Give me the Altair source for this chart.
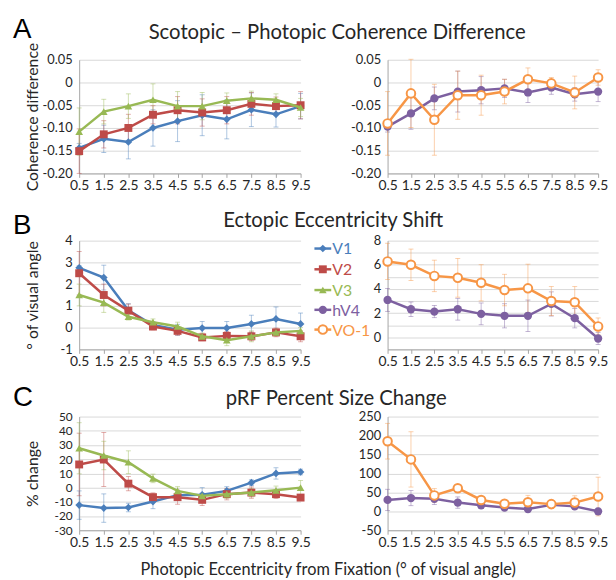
import altair as alt
import pandas as pd

# ---------------- data ----------------
ECC = [0.5, 1.5, 2.5, 3.5, 4.5, 5.5, 6.5, 7.5, 8.5, 9.5]

# A: Scotopic - Photopic coherence difference
A_V1 = [-0.144, -0.124, -0.131, -0.100, -0.085, -0.072, -0.081, -0.060, -0.070, -0.052]
A_V1_err = [0.010, 0.030, 0.037, 0.040, 0.045, 0.045, 0.043, 0.037, 0.028, 0.028]
A_V2 = [-0.151, -0.114, -0.100, -0.071, -0.061, -0.066, -0.061, -0.047, -0.052, -0.050]
A_V2_err = [0.049, 0.030, 0.030, 0.020, 0.030, 0.030, 0.030, 0.025, 0.020, 0.030]
A_V3 = [-0.108, -0.064, -0.052, -0.038, -0.052, -0.052, -0.040, -0.035, -0.038, -0.055]
A_V3_err = [0.052, 0.027, 0.027, 0.035, 0.032, 0.030, 0.017, 0.016, 0.013, 0.020]
A_hV4 = [-0.097, -0.068, -0.035, -0.020, -0.017, -0.013, -0.022, -0.011, -0.026, -0.020]
A_hV4_err = [0.012, 0.035, 0.025, 0.045, 0.030, 0.020, 0.022, 0.015, 0.015, 0.022]
A_VO1 = [-0.090, -0.024, -0.082, -0.028, -0.028, -0.020, 0.007, -0.002, -0.022, 0.011]
A_VO1_err = [0.070, 0.075, 0.078, 0.053, 0.044, 0.027, 0.025, 0.013, 0.036, 0.017]

# B: Ectopic eccentricity shift
B_V1 = [2.75, 2.30, 0.80, 0.12, -0.10, -0.02, -0.02, 0.17, 0.40, 0.17]
B_V1_err = [0.10, 0.57, 0.30, 0.15, 0.25, 0.30, 0.30, 0.40, 0.55, 0.50]
B_V2 = [2.50, 1.50, 0.78, 0.05, -0.15, -0.45, -0.38, -0.40, -0.22, -0.40]
B_V2_err = [1.00, 0.50, 0.30, 0.15, 0.20, 0.15, 0.20, 0.20, 0.20, 0.25]
B_V3 = [1.50, 1.15, 0.50, 0.25, 0.05, -0.40, -0.58, -0.40, -0.22, -0.15]
B_V3_err = [0.50, 0.45, 0.15, 0.15, 0.20, 0.15, 0.25, 0.25, 0.15, 0.15]
B_hV4 = [3.09, 2.32, 2.13, 2.32, 1.94, 1.78, 1.78, 2.76, 1.58, -0.10]
B_hV4_err = [0.95, 0.60, 0.50, 0.90, 0.90, 1.00, 1.30, 1.00, 0.80, 0.50]
B_VO1 = [6.28, 6.00, 5.08, 4.92, 4.51, 3.91, 4.05, 3.00, 2.90, 0.90]
B_VO1_err = [1.50, 1.30, 1.30, 1.60, 1.50, 1.30, 2.00, 1.20, 1.30, 0.70]

# C: pRF percent size change
C_V1 = [-12.3, -14.4, -14.0, -9.8, -5.3, -5.0, -2.3, 3.5, 10.0, 11.0]
C_V1_err = [10, 10, 3, 5, 3, 5, 3, 2, 4, 2]
C_V2 = [16.3, 19.8, 2.8, -6.7, -6.7, -8.6, -4.6, -3.5, -4.6, -7.0]
C_V2_err = [22, 19, 5, 3, 5, 4, 4, 4, 3, 2]
C_V3 = [27.7, 22.6, 17.9, 6.5, -2.3, -5.8, -4.6, -3.5, -1.9, 0.0]
C_V3_err = [18, 10, 8, 3, 3, 2, 3, 3, 3, 5]
C_hV4 = [30, 35, 33, 23, 16, 10, 6, 17, 13, 0]
C_hV4_err = [28, 20, 15, 15, 8, 8, 8, 8, 8, 8]
C_VO1 = [185, 137, 42, 61, 30, 20, 24, 19, 23, 39]
C_VO1_err = [47, 73, 18, 8, 5, 5, 18, 5, 18, 51]

SERIES = ["V1", "V2", "V3", "hV4", "VO-1"]
COLORS = {"V1": "#4A7EBB", "V2": "#BE4B48", "V3": "#98B954", "hV4": "#7D60A0", "VO-1": "#F79646"}
SHAPES = {"V1": "diamond", "V2": "square", "V3": "triangle-up", "hV4": "circle", "VO-1": "circle"}
SIZES = {"V1": 60, "V2": 64, "V3": 60, "hV4": 70, "VO-1": 75}

FONT = "Lato"
TXT = "#262626"
MINUS = "\u2212"

LW, RW = 224, 213          # plot widths
HA, HB, HC = 115, 110, 115  # plot heights


def x_enc():
    return alt.X("x:Q", scale=alt.Scale(domain=[0.5, 9.5], nice=False, zero=False),
                 axis=alt.Axis(values=ECC, format=".1f", title=None, grid=False,
                               labelOverlap=False, tickSize=4, labelPadding=1,
                               labelFlush=False, labelFontSize=14))


def y_axis(values, fmt, expr, title=None, size=13):
    kw = dict(values=values, format=fmt, labelExpr=expr, grid=True, ticks=False,
              labelPadding=7, labelOverlap=False, labelFlush=False, labelFontSize=size)
    if title:
        kw.update(title=title, titleX=-47, titleBaseline="middle", titleAngle=-90)
    else:
        kw.update(title=None)
    return alt.Axis(**kw)


def series_layers(name, vals, errs, ydom, yaxis):
    df = pd.DataFrame({"x": ECC, "y": vals,
                       "lo": [v - e for v, e in zip(vals, errs)],
                       "hi": [v + e for v, e in zip(vals, errs)]})
    c = COLORS[name]
    sc = alt.Scale(domain=ydom, nice=False, zero=False)
    base = alt.Chart(df)
    err = base.mark_rule(color=c, opacity=0.45, strokeWidth=1).encode(
        x=x_enc(), y=alt.Y("lo:Q", scale=sc, axis=yaxis), y2="hi:Q")
    cap1 = base.mark_tick(color=c, opacity=0.45, orient="horizontal", size=5, thickness=1).encode(
        x=x_enc(), y=alt.Y("lo:Q", scale=sc, axis=yaxis))
    cap2 = base.mark_tick(color=c, opacity=0.45, orient="horizontal", size=5, thickness=1).encode(
        x=x_enc(), y=alt.Y("hi:Q", scale=sc, axis=yaxis))
    line = base.mark_line(color=c, strokeWidth=2.5).encode(
        x=x_enc(), y=alt.Y("y:Q", scale=sc, axis=yaxis))
    if name == "VO-1":
        pts = base.mark_point(shape="circle", filled=True, fill="white", stroke=c,
                              strokeWidth=2, size=SIZES[name], opacity=1)
    else:
        pts = base.mark_point(shape=SHAPES[name], filled=True, color=c,
                              size=SIZES[name], opacity=1)
    pts = pts.encode(x=x_enc(), y=alt.Y("y:Q", scale=sc, axis=yaxis))
    return [err, cap1, cap2], [line, pts]


def text_layer(text, x, y, size, color=TXT, align="center", font=FONT, baseline="alphabetic"):
    return alt.Chart(pd.DataFrame({"t": [text]})).mark_text(
        align=align, baseline=baseline, fontSize=size, font=font, color=color
    ).encode(x=alt.value(x), y=alt.value(y), text="t:N")


def panel(series, ydom, yaxis, width, height, extra=()):
    errs, mains = [], []
    for name, vals, e in series:
        a, b = series_layers(name, vals, e, ydom, yaxis)
        errs += a
        mains += b
    return alt.layer(*errs, *mains, *extra).properties(width=width, height=height)


def legend_layers():
    out = []
    ys = [8, 29, 50, 70, 90]
    for name, ly in zip(SERIES, ys):
        c = COLORS[name]
        d = alt.Chart(pd.DataFrame({"t": [name]}))
        out.append(d.mark_rule(color=c, strokeWidth=2.5).encode(
            x=alt.value(238), x2=alt.value(255), y=alt.value(ly)))
        if name == "VO-1":
            p = d.mark_point(shape="circle", filled=True, fill="white", stroke=c,
                             strokeWidth=2, size=SIZES[name], opacity=1)
        else:
            p = d.mark_point(shape=SHAPES[name], filled=True, color=c,
                             size=SIZES[name], opacity=1)
        out.append(p.encode(x=alt.value(246.5), y=alt.value(ly)))
        out.append(d.mark_text(align="left", baseline="middle", fontSize=16, font=FONT,
                               color=c).encode(x=alt.value(256), y=alt.value(ly + 1), text="t:N"))
    return out


# axes
A_vals = [-0.2, -0.15, -0.1, -0.05, 0, 0.05]
A_expr = "datum.value == 0 ? '0' : replace(datum.label, '" + MINUS + "', '-')"
B_vals = [-1, 0, 1, 2, 3, 4]
B2_vals = [-1, 0, 1, 2, 3, 4, 5, 6, 7, 8]
gen_expr = "replace(datum.label, '" + MINUS + "', '-')"
B2_expr = "datum.value % 2 == 0 ? replace(datum.label, '" + MINUS + "', '-') : ''"
C_vals = [-30, -20, -10, 0, 10, 20, 30, 40, 50]
C2_vals = [-50, 0, 50, 100, 150, 200, 250]

A_left = panel(
    [("V1", A_V1, A_V1_err), ("V2", A_V2, A_V2_err), ("V3", A_V3, A_V3_err)],
    [-0.2, 0.05], y_axis(A_vals, ".2f", A_expr, "Coherence difference"), LW, HA,
    extra=[text_layer("A", -67, -22, 28, color="#000", align="left", font="Liberation Sans"),
           text_layer("Scotopic \u2013 Photopic Coherence Difference", 261, -21, 20.5)])
A_right = panel(
    [("hV4", A_hV4, A_hV4_err), ("VO-1", A_VO1, A_VO1_err)],
    [-0.2, 0.05], y_axis(A_vals, ".2f", A_expr), RW, HA)

B_left = panel(
    [("V1", B_V1, B_V1_err), ("V2", B_V2, B_V2_err), ("V3", B_V3, B_V3_err)],
    [-1, 4], y_axis(B_vals, "d", gen_expr, "\u00b0 of visual angle"), LW, HB,
    extra=[text_layer("B", -67, -7, 28, color="#000", align="left", font="Liberation Sans"),
           text_layer("Ectopic Eccentricity Shift", 257, -14, 20.5)] + legend_layers())
B_right = panel(
    [("hV4", B_hV4, B_hV4_err), ("VO-1", B_VO1, B_VO1_err)],
    [-1, 8], y_axis(B2_vals, "d", B2_expr), RW, HB)

C_left = panel(
    [("V1", C_V1, C_V1_err), ("V2", C_V2, C_V2_err), ("V3", C_V3, C_V3_err)],
    [-30, 50], y_axis(C_vals, "d", gen_expr, "% change", size=12), LW, HC,
    extra=[text_layer("C", -67, -11, 28, color="#000", align="left", font="Liberation Sans"),
           text_layer("pRF Percent Size Change", 260, -12, 20.5),
           text_layer("Photopic Eccentricity from Fixation (\u00b0 of visual angle)", 252, 160, 16.5)])
C_right = panel(
    [("hV4", C_hV4, C_hV4_err), ("VO-1", C_VO1, C_VO1_err)],
    [-50, 250], y_axis(C2_vals, "d", gen_expr), RW, HC)

chart = alt.concat(A_left, A_right, B_left, B_right, C_left, C_right,
                   columns=2, spacing={"row": 68, "column": 88}).properties(
    bounds="flush",
    padding={"left": 5, "top": 5, "right": 0, "bottom": 0},
).configure_view(stroke=None).configure_axis(
    labelFont=FONT, labelColor=TXT,
    titleFont=FONT, titleFontSize=16, titleFontWeight="normal", titleColor=TXT,
    gridColor="#d9d9d9", gridWidth=1, domainColor="#a6a6a6", tickColor="#a6a6a6",
)

chart.save("out.html", embed_options={"renderer": "svg", "actions": False})
